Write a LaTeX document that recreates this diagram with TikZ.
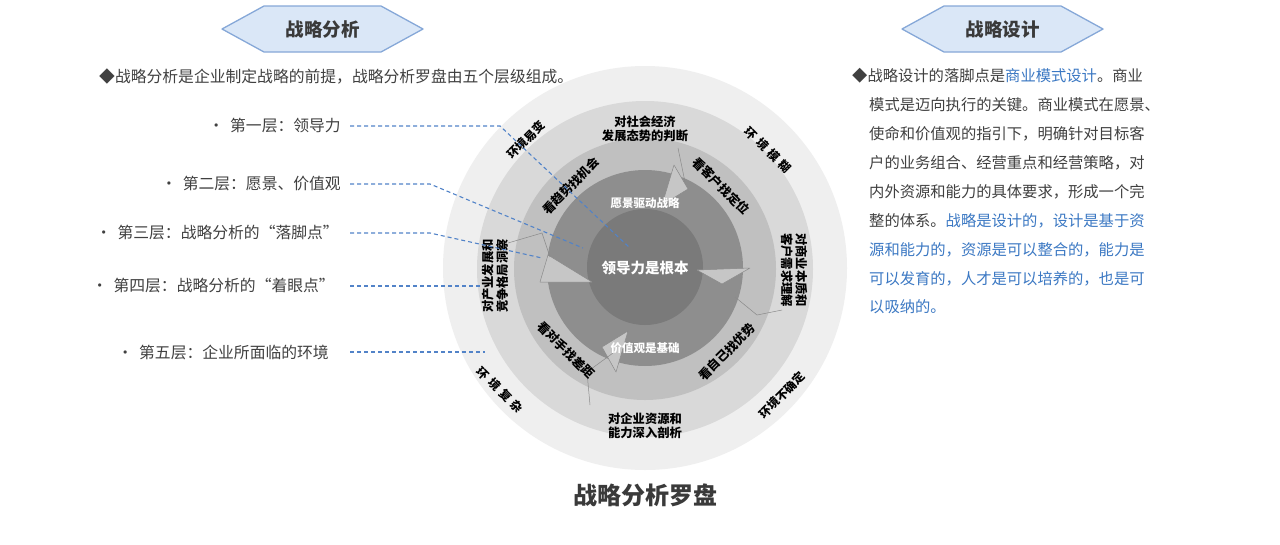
\documentclass[tikz,border=0pt]{standalone}
\usepackage{fontspec}
\setmainfont{Noto Sans CJK SC}
\definecolor{txt}{HTML}{404040}
\definecolor{ttl}{HTML}{3A3A3A}
\definecolor{blu}{HTML}{3B78C3}
\definecolor{dashc}{HTML}{5283C8}
\definecolor{hexfill}{HTML}{DAE7F7}
\definecolor{hexdraw}{HTML}{86A8D8}
\definecolor{ringA}{HTML}{EFEFEF}
\definecolor{ringB}{HTML}{D9D9D9}
\definecolor{ringC}{HTML}{C0C0C0}
\definecolor{ringD}{HTML}{8E8E8E}
\definecolor{ringE}{HTML}{7A7A7A}
\definecolor{ahfill}{HTML}{C6C6C6}
\definecolor{ahdraw}{HTML}{8A8A8A}
\begin{document}
\begin{tikzpicture}[x=1pt,y=-1pt,
  body/.style={inner sep=0pt,anchor=west,text=txt,font=\fontsize{15.3}{15.3}\selectfont},
  lbody/.style={inner sep=0pt,anchor=west,text=txt,font=\fontsize{15.8}{15.8}\selectfont},
  bul/.style={inner sep=0pt,anchor=east,text=txt,font=\fontsize{15.8}{15.8}\selectfont},
  hexa/.style={fill=hexfill,draw=hexdraw,line width=1.3pt,line join=round},
  hextext/.style={inner sep=0pt,text=ttl,font=\fontsize{18.5}{18.5}\selectfont\bfseries},
  ringtxt/.style={inner sep=0pt,text=black,align=center,font=\fontsize{12.3}{14.5}\selectfont\bfseries},
  vuca/.style={inner sep=0pt,text=black,font=\fontsize{11.8}{11.8}\selectfont\bfseries},
  wtxt/.style={inner sep=0pt,text=white,font=\fontsize{11.5}{11.5}\selectfont\bfseries},
  dl/.style={draw=dashc,line width=1.1pt,dash pattern=on 4pt off 3pt},
  ahead/.style={fill=ahfill,draw=ahdraw,line width=0.5pt,line join=round},
  aline/.style={draw=ahdraw,line width=0.5pt}
]
\useasboundingbox (0,0) rectangle (1280,544);
\fill[white] (0,0) rectangle (1280,544);

% headers
\draw[hexa] (222,29) -- (264,6) -- (381,6) -- (423,29) -- (381,52) -- (264,52) -- cycle;
\node[hextext] (h1) at (322.5,29) {战略分析};
\draw[hexa] (902,29) -- (944,6) -- (1061,6) -- (1103,29) -- (1061,52) -- (944,52) -- cycle;
\node[hextext] (h2) at (1002.5,29) {战略设计};

% left text
\node[lbody] (intro) at (99,76) {◆战略分析是企业制定战略的前提，战略分析罗盘由五个层级组成。};
\node[bul] (l1) at (341,126) {•\hspace{6pt}第一层：领导力};
\node[bul] (l2) at (341,184) {•\hspace{6pt}第二层：愿景、价值观};
\node[bul] (l3) at (339,233) {•\hspace{6pt}第三层：战略分析的“落脚点”};
\node[bul] (l4) at (335,286) {•\hspace{6pt}第四层：战略分析的“着眼点”};
\node[bul] (l5) at (329,352) {•\hspace{6pt}第五层：企业所面临的环境};

% compass rings
\fill[ringA] (645,268) circle[radius=202];
\fill[ringB] (645,269) circle[radius=168];
\fill[ringC] (645,269) circle[radius=131];
\fill[ringD] (645,268) circle[radius=98];
\fill[ringE] (645,267) circle[radius=58];

% cycle arrowheads
\draw[ahead] (540,282) -- (592,282) -- (548,255) -- cycle;
\draw[ahead] (697,270) -- (750,268) -- (722,284) -- cycle;
\draw[ahead] (662,205) -- (674,165) -- (688,189) -- cycle;
\draw[ahead] (628,331) -- (616,372) -- (602,347) -- cycle;
\draw[aline] (678,148) -- (685,182);
\draw[aline] (735,297) -- (757,315) -- (782,310);
\draw[aline] (613,353) -- (587,372) -- (590,405);
\draw[aline] (508,243) -- (542,233) -- (550,257);

% ring 5 texts
\node[vuca,rotate=45] (v1) at (526,140) {环境易变};
\node[vuca,rotate=-45] (v2) at (768,150) {环\hspace{4pt}境\hspace{4pt}模\hspace{4pt}糊};
\node[vuca,rotate=-45] (v3) at (500,390) {环\hspace{4pt}境\hspace{4pt}复\hspace{4pt}杂};
\node[vuca,rotate=45] (v4) at (782,395) {环境不确定};

% ring 4 texts
\node[ringtxt] (o1) at (645,129) {对社会经济\\发展态势的判断};
\node[ringtxt,rotate=90] (o2) at (495,276) {对产业发展和\\竞争格局洞察};
\node[ringtxt,rotate=-90] (o3) at (794,270) {对商业本质和\\客户需求理解};
\node[ringtxt] (o4) at (645,426) {对企业资源和\\能力深入剖析};

% ring 3 texts
\node[ringtxt,rotate=45] (t1) at (571,186) {看趋势找机会};
\node[ringtxt,rotate=-45] (t2) at (721,186) {看客户找定位};
\node[ringtxt,rotate=-45] (t3) at (566,350) {看对手找差距};
\node[ringtxt,rotate=45] (t4) at (727,352) {看自己找优势};

% inner texts
\node[wtxt] (w1) at (645,203) {愿景驱动战略};
\node[wtxt] (w2) at (645,348) {价值观是基础};
\node[inner sep=0pt,text=white,font=\fontsize{14.5}{14.5}\selectfont\bfseries] (core) at (645,268) {领导力是根本};

% title
\node[inner sep=0pt,text=ttl,font=\fontsize{24}{24}\selectfont\bfseries] (title) at (645,495) {战略分析罗盘};

% leader lines
\coordinate (e1) at (630,248);
\coordinate (e2) at (583,248);
\coordinate (e3) at (542,258);
\coordinate (e4) at (483,286);
\coordinate (e5) at (485,352);
\draw[dl] ([xshift=9pt]l1.east) -- (500,126) -- (e1);
\draw[dl] ([xshift=9pt]l2.east) -- (430,184) -- (e2);
\draw[dl] ([xshift=11pt]l3.east) -- (430,233) -- (e3);
\draw[dl] ([xshift=15pt]l4.east) -- (e4);
\draw[dl] ([xshift=21pt]l5.east) -- (e5);

% right text
\node[body] (p1) at (852,76) {◆战略设计的落脚点是\textcolor{blu}{商业模式设计}。商业};
\node[body] (p2) at (869,105) {模式是迈向执行的关键。商业模式在愿景、};
\node[body] (p3) at (869,134) {使命和价值观的指引下，明确针对目标客};
\node[body] (p4) at (869,163) {户的业务组合、经营重点和经营策略，对};
\node[body] (p5) at (869,192) {内外资源和能力的具体要求，形成一个完};
\node[body] (p6) at (869,221) {整的体系。\textcolor{blu}{战略是设计的，设计是基于资}};
\node[body,text=blu] (p7) at (869,250) {源和能力的，资源是可以整合的，能力是};
\node[body,text=blu] (p8) at (869,279) {可以发育的，人才是可以培养的，也是可};
\node[body,text=blu] (p9) at (869,307) {以吸纳的。};
\end{tikzpicture}
\end{document}
